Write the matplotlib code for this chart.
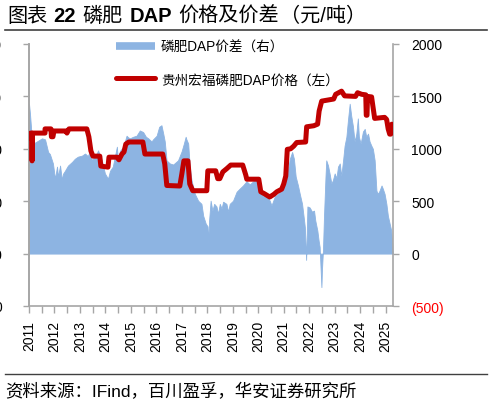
import matplotlib
matplotlib.use("Agg")
import matplotlib.pyplot as plt
from matplotlib.lines import Line2D
from matplotlib.ticker import MultipleLocator

plt.rcParams['font.family'] = ['Liberation Sans', 'Noto Sans CJK SC', 'DejaVu Sans']

# ---- data: DAP price gap (right axis) ----
gap_year = [2011.00, 2011.04, 2011.08, 2011.12, 2011.24, 2011.31, 2011.51, 2011.63, 2011.75, 2011.82,
            2011.94, 2012.02, 2012.10, 2012.14, 2012.22, 2012.29, 2012.33, 2012.41, 2012.53, 2012.69,
            2012.80, 2012.92, 2013.08, 2013.20, 2013.31, 2013.39, 2013.47, 2013.59, 2013.67, 2013.71,
            2013.86, 2013.98, 2014.10, 2014.18, 2014.29, 2014.45, 2014.49, 2014.57, 2014.70, 2014.83,
            2014.89, 2014.96, 2015.09, 2015.22, 2015.35, 2015.48, 2015.59, 2015.68, 2015.81, 2015.87,
            2016.01, 2016.11, 2016.20, 2016.27, 2016.33, 2016.40, 2016.53, 2016.66, 2016.85, 2016.99,
            2017.08, 2017.15, 2017.18, 2017.25, 2017.31, 2017.38, 2017.51, 2017.64, 2017.77, 2017.84,
            2017.94, 2018.01, 2018.03, 2018.07, 2018.13, 2018.20, 2018.27, 2018.36, 2018.42, 2018.49,
            2018.56, 2018.62, 2018.75, 2018.82, 2018.88, 2019.01, 2019.15, 2019.27, 2019.40, 2019.54,
            2019.67, 2019.80, 2019.93, 2020.06, 2020.19, 2020.32, 2020.45, 2020.52, 2020.65, 2020.78,
            2020.91, 2021.04, 2021.15, 2021.24, 2021.33, 2021.40, 2021.47, 2021.56, 2021.63, 2021.72,
            2021.80, 2021.83, 2021.88, 2021.93, 2022.02, 2022.11, 2022.19, 2022.24, 2022.32, 2022.37,
            2022.41, 2022.45, 2022.48, 2022.50, 2022.54, 2022.58, 2022.64, 2022.67, 2022.74, 2022.80,
            2022.87, 2022.93, 2023.00, 2023.07, 2023.13, 2023.20, 2023.26, 2023.33, 2023.39, 2023.46,
            2023.52, 2023.59, 2023.65, 2023.72, 2023.78, 2023.85, 2023.91, 2023.95, 2024.02, 2024.11,
            2024.18, 2024.24, 2024.31, 2024.37, 2024.44, 2024.50, 2024.57, 2024.60, 2024.64, 2024.70,
            2024.76, 2024.84, 2024.89, 2024.96, 2025.03, 2025.09, 2025.16, 2025.22, 2025.26, 2025.28]
gap_value = [1430, 1330, 1200, 1050, 1060, 1070, 1100, 1090, 970, 950,
             860, 715, 830, 735, 840, 700, 760, 790, 840, 875,
             905, 925, 935, 955, 930, 980, 890, 930, 960, 985,
             890, 765, 715, 790, 830, 1020, 900, 980, 1020, 1125,
             1110, 1100, 1115, 1125, 1175, 1160, 1115, 1100, 1070, 1090,
             1125, 1210, 1225, 1145, 1070, 890, 860, 850, 890, 975,
             1050, 1115, 1090, 1050, 830, 700, 570, 505, 475, 360,
             285, 260, 95, 315, 505, 410, 475, 450, 380, 475,
             430, 495, 475, 400, 475, 505, 590, 620, 650, 690,
             660, 690, 700, 600, 545, 560, 505, 460, 545, 570,
             600, 670, 765, 905, 970, 905, 735, 650, 570, 475,
             315, 250, -60, 450, 440, 400, 410, 315, 220, 125,
             65, -160, -320, -160, 30, 350, 735, 890, 840, 765,
             670, 700, 765, 720, 830, 860, 740, 890, 1030, 1115,
             1270, 1430, 1315, 1210, 1070, 1145, 1290, 1115, 1050, 1165,
             1190, 1115, 1145, 1070, 1030, 1000, 890, 765, 600, 570,
             600, 650, 620, 570, 475, 360, 285, 220, 95, 0]

# ---- data: Guizhou Hongfu DAP price (left axis) ----
price_year = [2011.00, 2011.06, 2011.10, 2011.12, 2011.14, 2011.63, 2011.63, 2011.86, 2011.88, 2011.94,
              2011.98, 2012.45, 2012.49, 2012.57, 2013.27, 2013.35, 2013.43, 2013.51, 2013.78, 2013.82,
              2014.10, 2014.14, 2014.45, 2014.53, 2014.65, 2014.73, 2014.80, 2014.92, 2015.47, 2015.55,
              2016.25, 2016.33, 2016.41, 2016.92, 2017.00, 2017.08, 2017.24, 2017.31, 2017.43, 2017.98,
              2018.02, 2018.33, 2018.41, 2018.49, 2018.61, 2018.76, 2018.92, 2019.39, 2019.51, 2019.55,
              2020.02, 2020.10, 2020.25, 2020.45, 2020.61, 2020.73, 2020.92, 2021.00, 2021.08, 2021.14,
              2021.27, 2021.39, 2021.51, 2021.86, 2021.90, 2022.18, 2022.33, 2022.39, 2022.49, 2022.96,
              2023.04, 2023.27, 2023.39, 2023.82, 2023.90, 2024.06, 2024.22, 2024.24, 2024.27, 2024.29,
              2024.45, 2024.49, 2024.57, 2024.96, 2025.04, 2025.10, 2025.16, 2025.20, 2025.24, 2025.29]
price_value = [3200, 3300, 3300, 2770, 3300, 3300, 3380, 3380, 3230, 3230,
               3340, 3340, 3300, 3380, 3380, 3230, 2960, 2860, 2860, 2670,
               2650, 2840, 2840, 2790, 2900, 2940, 3090, 3130, 3130, 2900,
               2900, 2710, 2300, 2290, 2520, 2770, 2770, 2330, 2200, 2200,
               2580, 2580, 2430, 2430, 2560, 2620, 2690, 2690, 2500, 2420,
               2420, 2180, 2140, 2080, 2130, 2180, 2230, 2330, 2480, 2990,
               3000, 3050, 3120, 3130, 3420, 3440, 3470, 3720, 3910, 3950,
               4040, 4100, 4010, 4000, 4070, 4040, 4030, 3640, 3640, 4000,
               3990, 3850, 3580, 3600, 3560, 3380, 3280, 3280, 3470, 3440]

years = list(range(2011, 2026))
right_ticks = [-500, 0, 500, 1000, 1500, 2000]
right_labels = ["(500)", "0", "500", "1000", "1500", "2000"]
left_ticks = [0, 1000, 2000, 3000, 4000, 5000]
left_labels = ["0", "1000", "2000", "3000", "4000", "5000"]

# title pieces (text, bold?, gap after in px)
title_parts = [("图表", False, 6.5), ("22", True, 6.5), ("磷肥", False, 6.5), ("DAP", True, 6.5),
               ("价格及价差", False, 0.5), ("（元/吨）", False, 0)]
source = "资料来源：IFind，百川盈孚，华安证券研究所"
gap_label = "磷肥DAP价差（右）"
price_label = "贵州宏福磷肥DAP价格（左）"

BLUE = "#8DB4E2"
RED = "#C00000"
GRAY = "#A6A6A6"

W, H = 491, 406
fig = plt.figure(figsize=(W / 100, H / 100), dpi=100)
ax = fig.add_axes([29 / W, 1 - 307 / H, (393 - 29) / W, (307 - 45) / H])

# gap area on base axis
ax.fill_between(gap_year, 0, gap_value, color=BLUE, lw=0.6, edgecolor=BLUE, zorder=2)
ax.set_ylim(-500, 2000)
ax.set_xlim(2011, 2025.29)
ax.set_xticks(years)
ax.set_xticklabels([str(y) for y in years], rotation=90, fontsize=10)
ax.xaxis.set_minor_locator(MultipleLocator(0.5))
ax.tick_params(axis='x', which='both', direction='out', length=5, width=1, color=GRAY, pad=5)

# price on twin axis
ax2 = ax.twinx()
ax2.plot(price_year, price_value, color=RED, lw=3.6, solid_joinstyle='round',
         solid_capstyle='round', zorder=3)
ax2.set_ylim(0, 5000)

# right axis ticks -> gap (ax), left axis ticks -> price (ax2)
ax.yaxis.set_ticks_position('right')
ax.set_yticks(right_ticks)
ax.set_yticklabels(right_labels, fontsize=10)
for t, v in zip(ax.get_yticklabels(), right_ticks):
    t.set_color('#FF0000' if v < 0 else 'black')
ax.tick_params(axis='y', which='both', direction='out', length=4, width=1, color=GRAY,
               pad=9, left=False, labelleft=False, right=True, labelright=True)

ax2.yaxis.set_ticks_position('left')
ax2.set_yticks(left_ticks)
ax2.set_yticklabels(left_labels, fontsize=10)
ax2.tick_params(axis='y', direction='out', length=4, width=1, color=GRAY, pad=15.5,
                left=True, labelleft=True, right=False, labelright=False)

for s in ['top']:
    ax.spines[s].set_visible(False)
    ax2.spines[s].set_visible(False)
for s in ['left', 'right', 'bottom']:
    ax.spines[s].set_color(GRAY)
    ax.spines[s].set_linewidth(1.2)
for s in ['right', 'bottom']:
    ax2.spines[s].set_visible(False)
ax2.spines['left'].set_color(GRAY)
ax2.spines['left'].set_linewidth(1.2)

# legend
handles = [Line2D([0], [0], color=BLUE, lw=5.5, solid_capstyle='butt'),
           Line2D([0], [0], color=RED, lw=3.6, solid_capstyle='round')]
fig.legend(handles, [gap_label, price_label], loc='center left',
           bbox_to_anchor=(116 / W, 1 - 64 / H), frameon=False, fontsize=9.8,
           handlelength=2.9, handletextpad=0.4, labelspacing=1.35,
           borderpad=0, borderaxespad=0)

# title: pieces laid out one after another
renderer = fig.canvas.get_renderer()
x = 7.0
for txt, bold, gap in title_parts:
    t = fig.text(x / W, 1 - 16 / H, txt, fontsize=14.5, fontweight='bold' if bold else 'normal',
                 va='center', ha='left')
    bb = t.get_window_extent(renderer=renderer)
    x = bb.x1 + gap

fig.add_artist(Line2D([5 / W, 487 / W], [1 - 31 / H, 1 - 31 / H], color='#404040', lw=1.2))
fig.add_artist(Line2D([5 / W, 487 / W], [1 - 375 / H, 1 - 375 / H], color='#404040', lw=1.0))
fig.text(5 / W, 1 - 392 / H, source, fontsize=12.5, va='center', ha='left')

fig.savefig("out.png", dpi=100)
